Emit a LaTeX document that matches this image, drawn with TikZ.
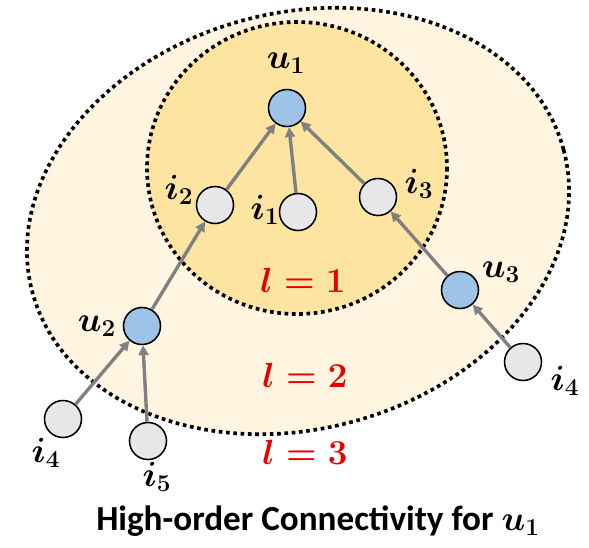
\documentclass[tikz,border=0pt]{standalone}
\usepackage{amsmath,amssymb}
\usepackage{fontspec}
\setmainfont{Carlito}
\usepackage{xcolor}
\usetikzlibrary{arrows.meta, positioning}

\definecolor{userblue}{RGB}{157,195,230}
\definecolor{itemgray}{RGB}{231,230,232}
\definecolor{edgegray}{RGB}{128,128,128}
\definecolor{ringouter}{RGB}{255,245,224}
\definecolor{ringinner}{RGB}{253,228,160}
\definecolor{layerred}{RGB}{232,0,0}

\begin{document}
\begin{tikzpicture}[
  x=0.025cm,
  y=-0.025cm,
  usernode/.style={
    circle,
    draw=black,
    line width=1.1pt,
    fill=userblue,
    minimum size=0.925cm,
    inner sep=0pt
  },
  itemnode/.style={
    usernode,
    fill=itemgray
  },
  nodelabel/.style={
    font=\fontsize{26}{30}\selectfont\boldmath,
    inner sep=0pt
  },
  layerlabel/.style={
    nodelabel,
    text=layerred
  },
  hopline/.style={
    -{Triangle[length=7pt,width=7pt]},
    line width=2.4pt,
    draw=edgegray
  },
  hopring/.style={
    draw=black,
    line width=2.6pt,
    dash pattern=on 2.6pt off 2.6pt
  }
]

\useasboundingbox (0,0) rectangle (589,547);

% receptive fields, l = 2 / l = 1
\draw[hopring, fill=ringouter, rotate around={15:(298,221)}]
  (298,221) ellipse [x radius=275, y radius=208];
\draw[hopring, fill=ringinner]
  (297,168) ellipse [x radius=150, y radius=146];

\node[usernode] (u1) at (287,108) {};
\node[itemnode] (i2) at (215,205) {};
\node[itemnode] (i1) at (298,212) {};
\node[itemnode] (i3) at (378,197) {};
\node[usernode] (u2) at (142,326) {};
\node[usernode] (u3) at (460,290) {};
\node[itemnode] (i4a) at (63,419) {};
\node[itemnode] (i5) at (148,441) {};
\node[itemnode] (i4b) at (523,362) {};

\node[nodelabel] (u1lab) at (286,63) {$u_1$};
\node[nodelabel] (i2lab) at (179,190) {$i_2$};
\node[nodelabel] (i1lab) at (265,210) {$i_1$};
\node[nodelabel] (i3lab) at (419,184) {$i_3$};
\node[nodelabel] (u2lab) at (97,326) {$u_2$};
\node[nodelabel] (u3lab) at (501,272) {$u_3$};
\node[nodelabel] (i4alab) at (46,453) {$i_4$};
\node[nodelabel] (i5lab) at (157,477) {$i_5$};
\node[nodelabel] (i4blab) at (565,381) {$i_4$};

\node[layerlabel] (l1) at (303,280) {$l=1$};
\node[layerlabel] (l2) at (305,375) {$l=2$};
\node[layerlabel] (l3) at (305,452) {$l=3$};

\node[font=\fontsize{25}{30}\selectfont\bfseries\boldmath] (title) at (318,521)
  {High-order Connectivity for $u_1$};

\draw[hopline] (i2) -- (u1);
\draw[hopline] (i1) -- (u1);
\draw[hopline] (i3) -- (u1);
\draw[hopline] (u2) -- (i2);
\draw[hopline] (u3) -- (i3);
\draw[hopline] (i4a) -- (u2);
\draw[hopline] (i5) -- (u2);
\draw[hopline] (i4b) -- (u3);

\end{tikzpicture}
\end{document}
